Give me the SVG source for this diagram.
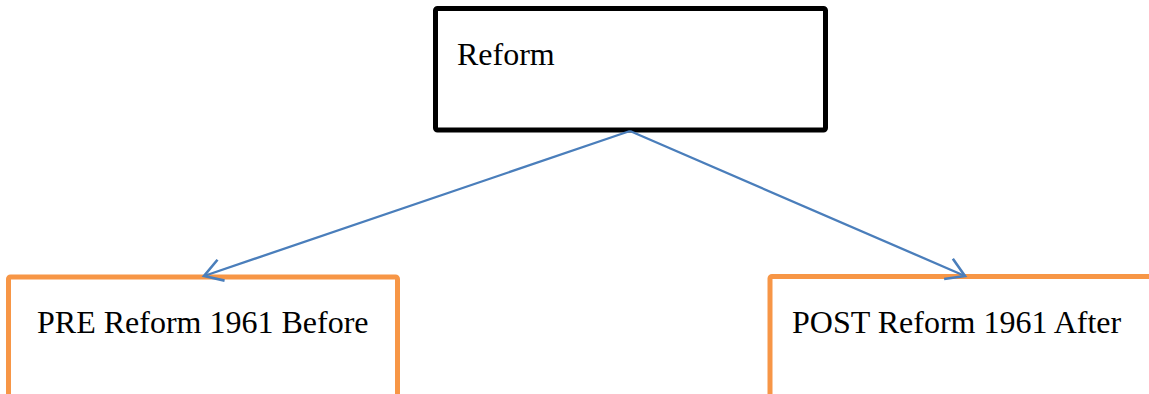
<svg xmlns="http://www.w3.org/2000/svg" width="1149" height="394" viewBox="0 0 1149 394">
  <style>
    .lbl { font-family: "Liberation Serif", "Times New Roman", serif; font-size: 32px; fill: #000; }
    .main { fill: #fff; stroke: #000; stroke-width: 5; }
    .sub { fill: #fff; stroke: #F79646; stroke-width: 5; }
    .conn { fill: none; stroke: #4A7EBB; stroke-width: 2.3; }
  </style>
  <defs>
    <marker id="arr" markerUnits="userSpaceOnUse" viewBox="-20 -13 22 26" refX="0" refY="0" markerWidth="22" markerHeight="26" orient="auto" overflow="visible">
      <path d="M-18,-11 L0,0 L-18,11" fill="none" stroke="#4A7EBB" stroke-width="2.6"/>
    </marker>
  </defs>
  <rect width="1149" height="394" fill="#fff"/>
  <g id="node-reform">
    <rect class="main" x="435.5" y="8.5" width="390" height="121.5" rx="2"/>
    <text class="lbl" x="457" y="65">Reform</text>
  </g>
  <g id="node-pre">
    <rect class="sub" x="8.5" y="277" width="389" height="140" rx="2"/>
    <text class="lbl" x="37" y="333">PRE Reform 1961 Before</text>
  </g>
  <g id="node-post">
    <rect class="sub" x="770" y="276.5" width="420" height="140" rx="2"/>
    <text class="lbl" x="792" y="333">POST Reform 1961 After</text>
  </g>
  <g id="connectors">
    <line class="conn" x1="630" y1="131" x2="204" y2="276" marker-end="url(#arr)"/>
    <line class="conn" x1="630" y1="131" x2="965" y2="276" marker-end="url(#arr)"/>
  </g>
</svg>
